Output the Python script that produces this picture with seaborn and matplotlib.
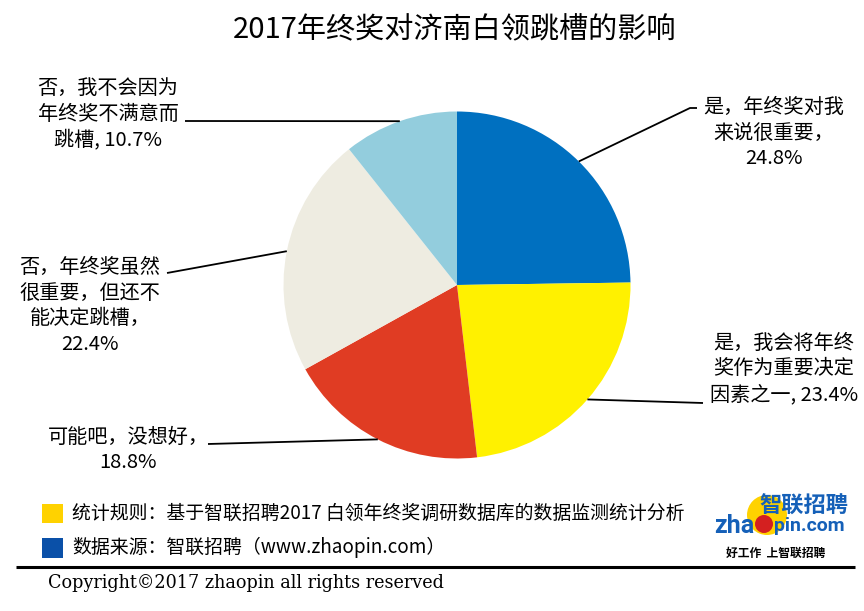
import numpy as np
import seaborn as sns
import matplotlib
matplotlib.use("Agg")
from matplotlib import pyplot as plt
from matplotlib.patches import Rectangle, Circle

# chart data, clockwise from 12 o'clock
categories = ["是，年终奖对我\n来说很重要，\n",
              "是，我会将年终\n奖作为重要决定\n因素之一, ",
              "可能吧，没想好，\n",
              "否，年终奖虽然\n很重要，但还不\n能决定跳槽，\n",
              "否，我不会因为\n年终奖不满意而\n跳槽, "]
shares = [24.8, 23.4, 18.8, 22.4, 10.7]
slice_colors = ["#0070C0", "#FFF100", "#E03C23", "#EEECE1", "#93CDDD"]

title = "2017年终奖对济南白领跳槽的影响"
note_rule = "统计规则：基于智联招聘2017 白领年终奖调研数据库的数据监测统计分析"
note_source = "数据来源：智联招聘（www.zhaopin.com）"
copyright_txt = "Copyright©2017 zhaopin all rights reserved"

W, H = 864, 611
# label placement in pixels (x, y from top) and leader line bends
label_pos = [(774, 133), (784, 369), (128, 450), (90, 306), (108, 114)]
leader_end = [[(690, 108), (697, 108)], [(703, 403)], [(208, 444)],
              [(167, 273)], [(185, 121)]]

sns.set_theme(style="white")
plt.rcParams["font.family"] = ["Noto Sans CJK SC", "DejaVu Sans"]

fig = plt.figure(figsize=(W / 100, H / 100), dpi=100)
ax = fig.add_axes([0, 0, 1, 1])

cx, cy, r = 457, H - 285, 173.5
wedges, _ = ax.pie(shares, colors=slice_colors, startangle=90, counterclock=False,
                   center=(cx, cy), radius=r, wedgeprops=dict(linewidth=0))

ax.set_xlim(0, W)
ax.set_ylim(0, H)
ax.set_aspect("equal")
ax.axis("off")

for w, cat, val, (tx, ty), ends in zip(wedges, categories, shares, label_pos, leader_end):
    ang = np.deg2rad((w.theta1 + w.theta2) / 2)
    ax0 = cx + r * np.cos(ang)
    ay0 = cy + r * np.sin(ang)
    xs = [ax0] + [p[0] for p in ends]
    ys = [ay0] + [H - p[1] for p in ends]
    ax.plot(xs, ys, color="black", lw=1.3, solid_capstyle="butt")
    ax.text(tx, H - ty, f"{cat}{val}%", ha="center", va="center",
            multialignment="center", fontsize=14.5, linespacing=1.28, color="black")

ax.text(455, H - 30, title, ha="center", va="center", fontsize=21, color="black")

# footnotes
ax.add_patch(Rectangle((42, H - 523), 21, 19, color="#FFD200", lw=0))
ax.add_patch(Rectangle((42, H - 558), 21, 20, color="#0A50A8", lw=0))
ax.text(72, H - 513, note_rule, ha="left", va="center", fontsize=13.6, color="black")
ax.text(72, H - 547, note_source, ha="left", va="center", fontsize=13.6, color="black")
ax.plot([16, 855], [H - 567, H - 567], color="black", lw=2.2, solid_capstyle="butt")
ax.text(48, H - 583, copyright_txt, ha="left", va="center", fontsize=12.7,
        family="DejaVu Serif", color="black")

# rough zhaopin logo
ax.add_patch(Circle((767, H - 515), 20, color="#FFD200", lw=0))
ax.text(804, H - 506, "智联招聘", ha="center", va="center", fontsize=16,
        fontweight="bold", style="italic", color="#1560B8")
ax.text(754, H - 526, "zha", ha="right", va="center", fontsize=18,
        fontweight="bold", family="Roboto", color="#1560B8")
ax.add_patch(Circle((764, H - 524), 9, color="#D42020", lw=0))
ax.text(774, H - 526, "pin.com", ha="left", va="center", fontsize=14,
        fontweight="bold", family="Roboto", color="#1560B8")
ax.text(776, H - 553, "好工作  上智联招聘", ha="center", va="center", fontsize=8.5,
        fontweight="bold", style="italic", color="black")

fig.savefig("out.png", dpi=100)
